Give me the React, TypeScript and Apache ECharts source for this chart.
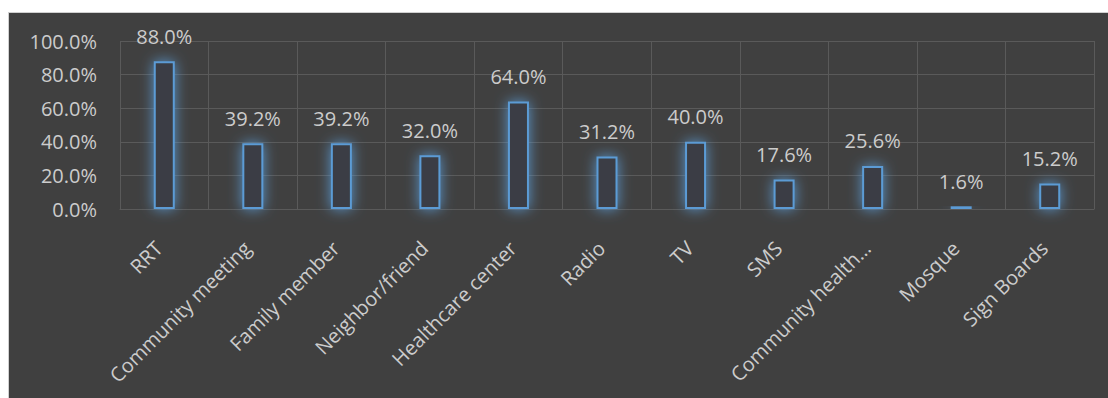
import React, { useEffect, useRef } from "react";
import * as echarts from "echarts";

const categories = [
  "RRT",
  "Community meeting",
  "Family member",
  "Neighbor/friend",
  "Healthcare center",
  "Radio",
  "TV",
  "SMS",
  "Community health…",
  "Mosque",
  "Sign Boards",
];
const values = [88.0, 39.2, 39.2, 32.0, 64.0, 31.2, 40.0, 17.6, 25.6, 1.6, 15.2];

const FONT = "'Open Sans', 'Noto Sans', sans-serif";
const TEXT = "#cccccc";
const GRID = "#5a5a5a";
const BLUE = "#5b9bd5";

export default function App() {
  const ref = useRef<HTMLDivElement>(null);
  useEffect(() => {
    if (!ref.current) return;
    const chart = echarts.init(ref.current, undefined, { renderer: "svg" });
    chart.setOption({
      animation: false,
      backgroundColor: "#404040",
      grid: { left: 111, right: 14, top: 28, bottom: 189, containLabel: false },
      xAxis: {
        type: "category",
        data: categories,
        boundaryGap: true,
        axisLine: { show: true, lineStyle: { color: GRID, width: 1 } },
        axisTick: { show: false },
        splitLine: { show: true, lineStyle: { color: GRID, width: 1 } },
        axisLabel: {
          rotate: 45,
          interval: 0,
          margin: 30,
          padding: [0, 8, 0, 0],
          color: TEXT,
          fontFamily: FONT,
          fontSize: 20,
        },
      },
      yAxis: {
        type: "value",
        min: 0,
        max: 100,
        interval: 20,
        axisLine: { show: false },
        axisTick: { show: false },
        splitLine: { show: true, lineStyle: { color: GRID, width: 1 } },
        axisLabel: {
          margin: 23,
          color: TEXT,
          fontFamily: FONT,
          fontSize: 20,
          formatter: (v: number) => v.toFixed(1) + "%",
        },
      },
      series: [
        {
          type: "bar",
          data: values,
          barWidth: 21,
          itemStyle: {
            color: "#3a3e44",
            borderColor: BLUE,
            borderWidth: 2,
            shadowBlur: 14,
            shadowColor: "rgba(91,155,213,0.95)",
          },
          label: {
            show: true,
            position: "top",
            distance: 15,
            color: TEXT,
            fontFamily: FONT,
            fontSize: 20,
            formatter: (p: any) => Number(p.value).toFixed(1) + "%",
          },
        },
      ],
    });
    return () => chart.dispose();
  }, []);
  return (
    <div
      style={{
        position: "absolute",
        left: 0,
        top: 0,
        width: 1108,
        height: 398,
        background: "#ffffff",
        overflow: "hidden",
      }}
    >
      <div
        style={{
          position: "absolute",
          left: 8,
          top: 12,
          width: 1100,
          height: 386,
          borderTop: "1px solid #d0d0d0",
          borderLeft: "1px solid #d0d0d0",
          boxSizing: "border-box",
        }}
      >
        <div ref={ref} style={{ width: 1099, height: 385 }} />
      </div>
    </div>
  );
}
